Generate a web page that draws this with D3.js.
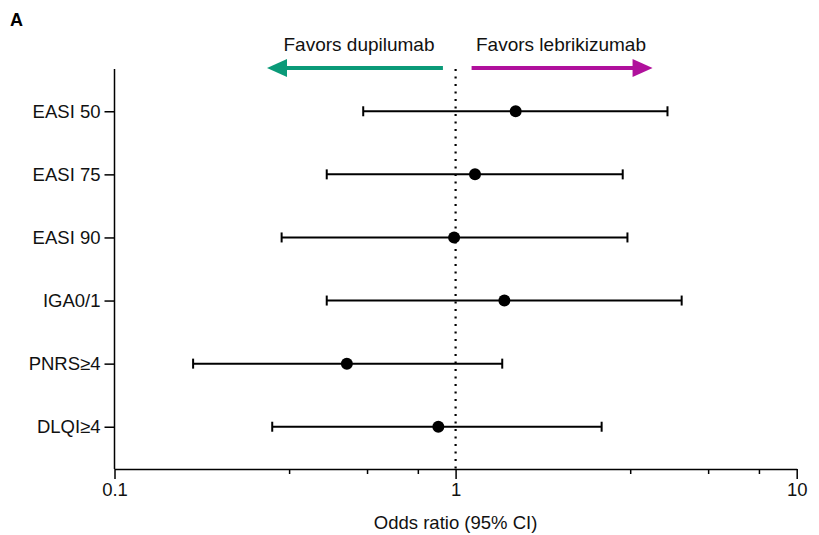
<!DOCTYPE html>
<meta charset="utf-8">
<style>
    body {
        margin: 0;
        background: #fff;
        font-family: Arial, "Liberation Sans", sans-serif;
    }

    .axis path,
    .axis line {
        stroke: #000;
        stroke-width: 1.5px;
    }

    .axis text {
        font-size: 18.5px;
        fill: #111;
        font-family: Arial, "Liberation Sans", sans-serif;
    }
</style>

<body>
    <svg id="forest" width="819" height="535"></svg>

    <script src="https://cdnjs.cloudflare.com/ajax/libs/d3/7.8.5/d3.min.js"></script>

    <script>
        // values
        var outcomes = ["EASI 50", "EASI 75", "EASI 90", "IGA0/1", "PNRS\u22654", "DLQI\u22654"];
        var oddsRatio = [1.50, 1.14, 0.99, 1.39, 0.48, 0.89];
        var ciLow = [0.536, 0.419, 0.309, 0.419, 0.170, 0.290];
        var ciHigh = [4.18, 3.09, 3.19, 4.60, 1.37, 2.68];
        var xTicks = [0.1, 0.325, 0.55, 0.775, 1, 3.25, 5.5, 7.75, 10];
        var xLabels = [0.1, 1, 10];

        var svg = d3.select("#forest"),
            plotLeft = 114.5, plotRight = 796.7,
            plotTop = 69, plotBottom = 469;

        var x = d3.scaleLog()
            .domain([0.1, 10])
            .range([plotLeft, plotRight]);

        var y = d3.scalePoint()
            .domain(outcomes)
            .range([plotTop, plotBottom])
            .padding(0.67);

        var data = outcomes.map(function (d, i) {
            return { name: d, or: oddsRatio[i], lo: ciLow[i], hi: ciHigh[i] };
        });

        // x axis
        var xAxis = svg.append("g")
            .attr("class", "axis")
            .attr("transform", "translate(0," + plotBottom + ")")
            .call(d3.axisBottom(x)
                .tickValues(xTicks)
                .tickSize(5)
                .tickSizeOuter(0)
                .tickFormat(function (d) { return xLabels.indexOf(d) >= 0 ? d : ""; }));
        xAxis.selectAll(".tick")
            .filter(function (d) { return xLabels.indexOf(d) >= 0; })
            .select("line").attr("y2", 10);
        xAxis.selectAll(".tick text").attr("y", 14);

        // y axis
        var yAxis = svg.append("g")
            .attr("class", "axis")
            .attr("transform", "translate(" + plotLeft + ",0)")
            .call(d3.axisLeft(y).tickSize(10).tickPadding(4).tickSizeOuter(0));
        yAxis.select(".domain").attr("d", "M0," + plotTop + "V" + plotBottom);

        // reference line at OR = 1
        svg.append("line")
            .attr("x1", x(1)).attr("x2", x(1))
            .attr("y1", plotTop).attr("y2", plotBottom)
            .attr("stroke", "#000")
            .attr("stroke-width", 2.2)
            .attr("stroke-dasharray", "2,5.5");

        // error bars
        var rows = svg.append("g").selectAll("g")
            .data(data)
            .enter().append("g");

        rows.append("line")
            .attr("x1", function (d) { return x(d.lo); })
            .attr("x2", function (d) { return x(d.hi); })
            .attr("y1", function (d) { return y(d.name); })
            .attr("y2", function (d) { return y(d.name); })
            .attr("stroke", "#000")
            .attr("stroke-width", 2);

        ["lo", "hi"].forEach(function (k) {
            rows.append("line")
                .attr("x1", function (d) { return x(d[k]); })
                .attr("x2", function (d) { return x(d[k]); })
                .attr("y1", function (d) { return y(d.name) - 5; })
                .attr("y2", function (d) { return y(d.name) + 5; })
                .attr("stroke", "#000")
                .attr("stroke-width", 2);
        });

        rows.append("circle")
            .attr("cx", function (d) { return x(d.or); })
            .attr("cy", function (d) { return y(d.name); })
            .attr("r", 6)
            .attr("fill", "#000");

        // direction arrows
        function arrow(x0, x1, color) {
            var dir = x1 > x0 ? 1 : -1, yy = 68, head = 20;
            svg.append("line")
                .attr("x1", x0).attr("x2", x1 - dir * head + dir * 2)
                .attr("y1", yy).attr("y2", yy)
                .attr("stroke", color)
                .attr("stroke-width", 4);
            svg.append("path")
                .attr("d", "M" + x1 + "," + yy + "L" + (x1 - dir * head) + "," + (yy - 9) +
                    "L" + (x1 - dir * head) + "," + (yy + 9) + "Z")
                .attr("fill", color);
        }
        arrow(x(0.918), x(0.28), "#0a9a78");
        arrow(x(1.114), x(3.78), "#b0109c");

        svg.append("text")
            .attr("x", 359).attr("y", 51)
            .attr("text-anchor", "middle")
            .style("font-size", "19px").style("fill", "#111")
            .text("Favors dupilumab");

        svg.append("text")
            .attr("x", 561).attr("y", 51)
            .attr("text-anchor", "middle")
            .style("font-size", "19px").style("fill", "#111")
            .text("Favors lebrikizumab");

        svg.append("text")
            .attr("x", x(1)).attr("y", 529)
            .attr("text-anchor", "middle")
            .style("font-size", "18.5px").style("fill", "#111")
            .text("Odds ratio (95% CI)");

        svg.append("text")
            .attr("x", 10).attr("y", 26)
            .style("font-size", "18px").style("font-weight", "bold")
            .text("A");
    </script>
</body>
